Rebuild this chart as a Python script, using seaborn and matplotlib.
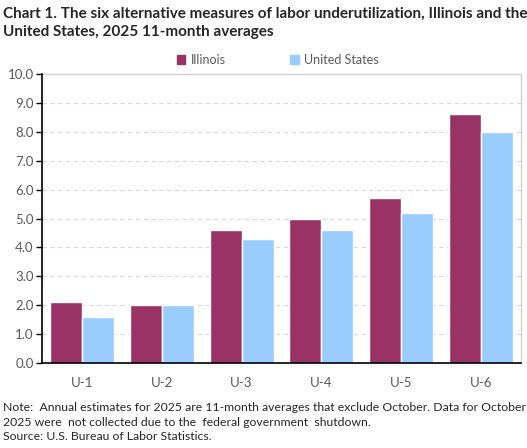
import pandas as pd
import matplotlib.pyplot as plt
import seaborn as sns

measures = ['U-1', 'U-2', 'U-3', 'U-4', 'U-5', 'U-6']
illinois = [2.1, 2.0, 4.6, 5.0, 5.7, 8.6]
united_states = [1.6, 2.0, 4.3, 4.6, 5.2, 8.0]
series = ['Illinois', 'United States']
colors = ['#993366', '#99CCFF']

df = pd.DataFrame({
    'measure': measures * 2,
    'area': [series[0]] * len(measures) + [series[1]] * len(measures),
    'rate': illinois + united_states,
})

sns.set_style('white')
plt.rcParams['font.family'] = ['Lato', 'DejaVu Sans']

fig = plt.figure(figsize=(5.27, 4.48), dpi=100)
ax = fig.add_axes([0.0797, 0.1897, 0.9089, 0.6451])

sns.barplot(data=df, x='measure', y='rate', hue='area', palette=colors,
            width=0.8, saturation=1, ax=ax, legend=False, zorder=2)

ax.set_ylim(0, 10)
ax.set_yticks([i for i in range(11)])
ax.set_yticklabels([f'{i:.1f}' for i in range(11)], fontsize=9.5, color='#595959')
ax.tick_params(axis='x', length=0, labelsize=9.5, labelcolor='#595959', pad=10)
ax.tick_params(axis='y', length=4, width=1, color='black', direction='out', pad=2, left=True)
ax.set_xlabel('')
ax.set_ylabel('')
ax.set_xlim(-0.5, 5.5)

ax.grid(axis='y', color='#d9d9d9', linestyle=(0, (4, 3)), linewidth=0.8, zorder=0)
ax.set_axisbelow(True)
for s in ['left', 'bottom']:
    ax.spines[s].set_color('black')
    ax.spines[s].set_linewidth(1.2)
    ax.spines[s].set_zorder(4)
for s in ['top', 'right']:
    ax.spines[s].set_color('#d0d0d0')
    ax.spines[s].set_linewidth(1.0)

handles = [plt.Rectangle((0, 0), 1, 1, color=c) for c in colors]
fig.legend(handles, series, loc='center', bbox_to_anchor=(0.527, 0.866), ncol=2,
           frameon=False, fontsize=9, handlelength=0.7, handleheight=0.7,
           handletextpad=0.4, columnspacing=5.2, labelcolor='#595959')

fig.text(0.006, 0.985, 'Chart 1. The six alternative measures of labor underutilization, Illinois and the\nUnited States, 2025 11-month averages',
         ha='left', va='top', fontsize=11, fontweight='bold', linespacing=1.4)

fig.text(0.006, 0.058, 'Note:  Annual estimates for 2025 are 11-month averages that exclude October. Data for October\n2025 were  not collected due to the  federal government  shutdown.\nSource: U.S. Bureau of Labor Statistics.',
         ha='left', va='center', fontsize=8.8, linespacing=1.4)

fig.savefig('out.png', dpi=100)
